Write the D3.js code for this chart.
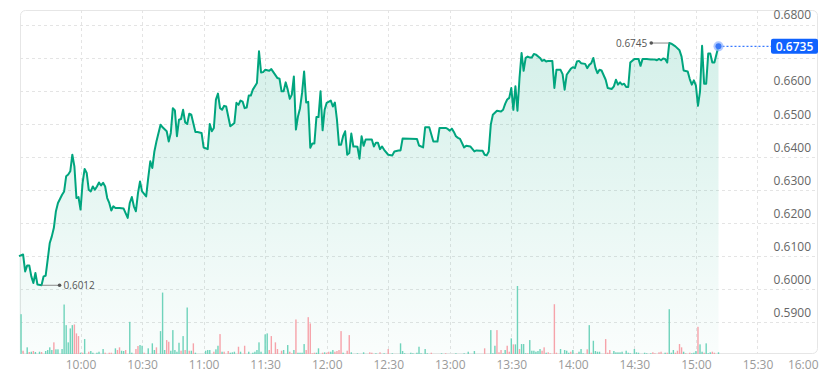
<!DOCTYPE html>
<html>
<head>
<meta charset="utf-8">
<script src="https://cdn.jsdelivr.net/npm/d3@7"></script>
<style>
  body { margin: 0; background: #fff; }
  svg text { font-family: "Open Sans", sans-serif; }
</style>
</head>
<body>
<svg id="chart" width="833" height="377"></svg>
<script>
// intraday price, one point per traded minute
var priceTimes = ["9:30","9:32","9:33","9:34","9:35","9:36","9:37","9:38","9:39","9:41","9:42","9:43","9:44","9:45","9:46","9:47","9:48","9:49","9:51","9:52","9:53","9:54","9:55","9:56","9:57","9:58","9:59",
"10:00","10:01","10:02","10:03","10:04","10:05","10:06","10:07","10:08","10:09","10:10","10:11","10:12","10:13","10:14","10:15","10:16","10:17","10:19","10:21","10:23","10:24","10:25","10:26","10:27","10:28","10:29","10:30","10:32","10:33","10:34","10:35","10:36","10:37","10:39","10:40","10:42","10:43","10:44","10:45","10:46","10:47","10:48","10:49","10:50","10:51","10:52","10:53","10:54","10:56","10:57","10:59",
"11:00","11:02","11:03","11:04","11:05","11:06","11:07","11:08","11:09","11:10","11:11","11:13","11:14","11:15","11:16","11:17","11:18","11:19","11:20","11:21","11:22","11:23","11:24","11:26","11:27","11:28","11:29","11:30","11:32","11:33","11:34","11:36","11:37","11:38","11:39","11:40","11:41","11:42","11:43","11:44","11:45","11:46","11:47","11:48","11:49","11:50","11:51","11:52","11:53","11:54","11:55","11:56","11:57","11:58","11:59",
"12:00","12:02","12:03","12:04","12:05","12:06","12:07","12:08","12:09","12:10","12:11","12:12","12:13","12:14","12:15","12:16","12:17","12:18","12:19","12:22","12:23","12:24","12:25","12:26","12:27","12:28","12:30","12:32","12:33","12:35","12:36","12:37","12:44","12:45","12:47","12:48","12:50","12:52","12:54","12:55","12:58","12:59",
"13:00","13:01","13:02","13:03","13:04","13:05","13:07","13:08","13:10","13:12","13:13","13:15","13:16","13:17","13:18","13:19","13:20","13:21","13:23","13:25","13:26","13:27","13:28","13:29","13:30","13:31","13:32","13:33","13:34","13:35","13:36","13:37","13:38","13:39","13:40","13:41","13:42","13:44","13:45","13:46","13:47","13:48","13:50","13:51","13:52","13:54","13:55","13:56","13:57","13:59",
"14:00","14:01","14:02","14:03","14:04","14:06","14:07","14:08","14:09","14:10","14:11","14:12","14:13","14:14","14:16","14:17","14:19","14:20","14:21","14:22","14:23","14:24","14:25","14:26","14:27","14:28","14:30","14:32","14:33","14:34","14:36","14:38","14:40","14:41","14:42","14:43","14:44","14:45","14:46","14:47","14:48","14:50","14:52","14:53","14:54","14:56","14:57","14:58","14:59",
"15:00","15:01","15:02","15:03","15:04","15:05","15:06","15:07","15:08","15:09","15:11"];

var prices = [0.6100,0.6105,0.6054,0.6072,0.6072,0.6039,0.6019,0.6049,0.6014,0.6012,0.6039,0.6041,0.6090,0.6140,0.6160,0.6186,0.6236,0.6261,0.6286,0.6296,0.6342,0.6347,0.6357,0.6407,0.6372,0.6276,0.6279,
0.6241,0.6322,0.6364,0.6352,0.6301,0.6296,0.6311,0.6301,0.6311,0.6323,0.6314,0.6322,0.6311,0.6276,0.6261,0.6238,0.6251,0.6246,0.6246,0.6244,0.6216,0.6261,0.6279,0.6251,0.6236,0.6291,0.6326,0.6296,0.6281,0.6337,0.6387,0.6367,0.6417,0.6447,0.6498,0.6490,0.6478,0.6447,0.6473,0.6548,0.6541,0.6463,0.6513,0.6515,0.6543,0.6505,0.6500,0.6531,0.6528,0.6476,0.6476,0.6473,
0.6429,0.6424,0.6500,0.6478,0.6488,0.6574,0.6592,0.6548,0.6543,0.6555,0.6553,0.6493,0.6498,0.6503,0.6564,0.6558,0.6571,0.6568,0.6548,0.6550,0.6586,0.6586,0.6604,0.6624,0.6720,0.6656,0.6657,0.6664,0.6661,0.6666,0.6657,0.6639,0.6637,0.6599,0.6599,0.6626,0.6604,0.6576,0.6589,0.6644,0.6483,0.6523,0.6548,0.6594,0.6659,0.6565,0.6567,0.6428,0.6441,0.6441,0.6521,0.6521,0.6599,0.6481,0.6543,
0.6564,0.6571,0.6553,0.6565,0.6513,0.6437,0.6437,0.6463,0.6478,0.6407,0.6412,0.6471,0.6432,0.6432,0.6431,0.6395,0.6463,0.6434,0.6453,0.6453,0.6432,0.6443,0.6443,0.6424,0.6432,0.6422,0.6407,0.6405,0.6417,0.6420,0.6420,0.6456,0.6455,0.6435,0.6429,0.6490,0.6490,0.6447,0.6447,0.6488,0.6488,0.6485,
0.6480,0.6486,0.6476,0.6463,0.6458,0.6455,0.6429,0.6434,0.6432,0.6417,0.6420,0.6419,0.6419,0.6407,0.6405,0.6417,0.6498,0.6528,0.6540,0.6538,0.6543,0.6561,0.6574,0.6579,0.6609,0.6543,0.6614,0.6540,0.6639,0.6715,0.6661,0.6700,0.6704,0.6701,0.6701,0.6712,0.6710,0.6700,0.6691,0.6694,0.6689,0.6691,0.6691,0.6609,0.6664,0.6664,0.6651,0.6604,0.6649,0.6667,
0.6672,0.6669,0.6689,0.6691,0.6684,0.6682,0.6669,0.6679,0.6684,0.6700,0.6670,0.6654,0.6664,0.6662,0.6634,0.6609,0.6606,0.6614,0.6634,0.6619,0.6626,0.6619,0.6622,0.6612,0.6612,0.6686,0.6697,0.6697,0.6676,0.6697,0.6697,0.6695,0.6695,0.6693,0.6697,0.6693,0.6698,0.6697,0.6686,0.6745,0.6743,0.6735,0.6723,0.6704,0.6662,0.6659,0.6636,0.6619,0.6632,
0.6616,0.6555,0.6599,0.6737,0.6622,0.6622,0.6713,0.6713,0.6686,0.6686,0.6735];

// volume per minute (thousands), u = up tick (green), d = down tick (red)
var volTimes = ["9:31","9:32","9:34","9:35","9:36","9:37","9:38","9:40","9:41","9:43","9:44","9:45","9:46","9:47","9:48","9:49","9:51","9:52","9:53","9:54","9:55","9:56","9:57","9:58","9:59",
"10:00","10:01","10:02","10:04","10:05","10:06","10:08","10:09","10:11","10:12","10:14","10:15","10:17","10:18","10:19","10:20","10:21","10:22","10:24","10:25","10:27","10:28","10:29","10:30","10:31","10:33","10:35","10:36","10:37","10:39","10:40","10:41","10:42","10:43","10:44","10:45","10:46","10:47","10:48","10:49","10:50","10:51","10:52","10:53","10:54","10:55","10:56",
"11:01","11:02","11:03","11:05","11:06","11:07","11:08","11:09","11:10","11:12","11:13","11:14","11:15","11:17","11:18","11:20","11:22","11:24","11:25","11:26","11:27","11:28","11:30","11:31","11:32","11:33","11:35","11:36","11:38","11:39","11:41","11:42","11:43","11:44","11:45","11:46","11:47","11:48","11:49","11:50","11:51","11:52","11:53","11:54","11:55","11:56","11:58","11:59",
"12:00","12:01","12:02","12:03","12:04","12:05","12:06","12:07","12:08","12:10","12:11","12:12","12:15","12:18","12:21","12:22","12:24","12:26","12:28","12:30","12:32","12:36","12:37","12:38","12:41","12:42","12:44","12:45","12:46","12:48","12:49","12:51","12:56","12:58",
"13:03","13:07","13:09","13:12","13:17","13:20","13:21","13:22","13:23","13:24","13:25","13:26","13:27","13:28","13:29","13:30","13:31","13:32","13:33","13:34","13:35","13:36","13:37","13:38","13:39","13:40","13:41","13:42","13:43","13:44","13:45","13:46","13:47","13:48","13:49","13:51","13:52","13:54","13:56","13:57","13:58","13:59",
"14:00","14:02","14:03","14:04","14:05","14:07","14:08","14:09","14:10","14:11","14:12","14:13","14:16","14:17","14:18","14:20","14:21","14:22","14:23","14:24","14:26","14:27","14:28","14:30","14:31","14:32","14:35","14:36","14:38","14:39","14:40","14:42","14:43","14:45","14:46","14:47","14:48","14:49","14:50","14:51","14:52","14:53","14:54","14:55","14:57","14:58","14:59",
"15:00","15:01","15:02","15:03","15:04","15:05","15:06","15:07","15:08","15:09","15:11"];

var volumes = [40,3.3,6.7,2,2.3,3,2,2.3,2,3,4,6.7,4,11.7,4.7,4.7,5,49.7,29,11.7,25.7,29,29.7,20.7,18,
1.3,1.3,15,2.3,3,1.3,1.3,2.3,5,1.3,1.3,1.3,5.7,4,6.7,3.3,3,4,32.3,1.3,5,8,9,8.3,1.3,5.7,10.7,4,6.7,23,61.7,4,14,12.3,3.3,24,4,2.3,11.3,3.3,18,4,46.7,3.3,3.3,10.7,1.3,
3.3,4,4,2.3,4.7,8.3,20,2.3,2.3,3,1.3,1.7,2.3,7.3,2.3,8.3,2.3,1.3,2.3,4,11.7,2.3,19.7,20.7,4,18,11.7,5,3.3,4,9,2.3,0.7,4,34.7,1.3,1.3,1.3,10,4,37,30.7,0.7,1.3,1.3,5.7,1.3,1.7,
1.3,2.3,2.3,4,2.3,3,4,23,1.3,3.3,19,1.7,0.7,1.7,1.7,1.3,0.7,1.7,0.7,5,0.7,10.7,3,0.7,1.3,0.7,1.3,7.3,0.7,5,0.7,1.3,0.7,0.7,
0.7,0.7,2.3,3,5.7,24,0.7,8.3,24,1.7,4,0.7,4,8.3,2.3,15.7,9.7,9.7,68.3,5,10,10,0.7,0.7,14,3.3,3.3,2.3,3,5,3.3,6.7,1.3,1.7,0.7,50,1.3,5,4,3.3,1.3,2.3,
4,0.7,2.3,5,0.7,4.7,29,1.3,13.3,3,2.3,2.3,15,1.3,4,3,1.7,1.7,1.7,2.3,3.3,1.3,0.7,5,1.7,1.3,1.3,0.7,0.7,1.7,0.7,1.7,2.3,1.3,1.3,45,1.3,4,1.3,3.3,10,6.7,2.3,0.7,1.3,0.7,1.3,
3,27.3,9.7,2.3,1.3,10.7,0.7,1.7,2.3,1.3,1.7];

var volSides = ["u","d","u","d","u","d","u","u","d","u","u","u","u","d","u","u","u","u","u","u","u","u","d","d","d",
"u","d","u","d","u","u","u","u","u","d","d","d","u","d","d","u","u","d","u","u","d","d","u","u","d","u","u","u","d","u","u","u","d","d","u","u","u","u","u","d","u","d","u","d","u","d","u",
"u","u","u","d","u","u","d","u","d","d","u","u","u","d","u","d","u","u","u","u","u","u","u","u","d","d","d","d","d","u","u","d","d","u","d","u","u","u","u","d","d","d","d","d","u","u","d","u",
"d","d","u","u","d","d","d","d","u","d","d","u","u","u","d","d","u","d","u","d","u","u","u","u","u","u","u","u","u","u","u","d","u","d",
"u","u","u","u","d","u","u","u","d","d","d","u","u","d","d","u","d","u","u","d","u","u","u","d","u","u","u","u","u","u","d","d","u","d","d","d","d","u","u","u","u","d",
"u","d","u","u","u","d","u","d","u","u","u","u","d","d","d","u","u","u","u","u","u","u","u","u","u","u","u","u","u","d","d","d","d","u","d","u","u","u","d","d","d","d","u","d","d","u","u",
"u","d","u","u","d","u","u","u","d","d","u"];

var priceTicks = [0.59, 0.60, 0.61, 0.62, 0.63, 0.64, 0.65, 0.66, 0.67, 0.68];
var timeTicks = ["10:00","10:30","11:00","11:30","12:00","12:30","13:00","13:30","14:00","14:30","15:00","15:30","16:00"];
var sessionStart = "9:30", sessionEnd = "16:00";

chart();

function chart() {
    var svg = d3.select("#chart");
    var parseTime = d3.timeParse("%H:%M");

    // plot frame
    var frame = {left: 20, right: 818, top: 10, bottom: 354};

    var x = d3.scaleTime()
        .domain([parseTime(sessionStart), parseTime(sessionEnd)])
        .range([19, 819]);

    var y = d3.scaleLinear()
        .domain([0.5804, 0.6845])
        .range([frame.bottom, frame.top]);

    var yVol = d3.scaleLinear()
        .domain([0, d3.max(volumes)])
        .range([frame.bottom, frame.bottom - 68]);

    var data = priceTimes.map((t, i) => ({t: parseTime(t), p: prices[i]}));
    var vols = volTimes.map((t, i) => ({t: parseTime(t), v: volumes[i], s: volSides[i]}));
    var last = data[data.length - 1];

    var lineCol = "#00a57e";
    var blue = "#0f62fe";

    // gradient for the area under the price line
    var grad = svg.append("defs").append("linearGradient")
        .attr("id", "areaFill")
        .attr("gradientUnits", "userSpaceOnUse")
        .attr("x1", 0).attr("x2", 0)
        .attr("y1", 40).attr("y2", frame.bottom);
    grad.append("stop").attr("offset", 0).attr("stop-color", lineCol).attr("stop-opacity", 0.17);
    grad.append("stop").attr("offset", 1).attr("stop-color", lineCol).attr("stop-opacity", 0.02);

    // frame box
    svg.append("rect")
        .attr("x", frame.left + 0.5).attr("y", frame.top + 0.5)
        .attr("width", frame.right - frame.left - 1)
        .attr("height", frame.bottom - frame.top - 1)
        .attr("rx", 5)
        .attr("fill", "none")
        .attr("stroke", "#e6e6e6");

    // dashed grid
    var grid = svg.append("g").attr("stroke", "#e4e4e4").attr("stroke-dasharray", "3,3");
    grid.selectAll("line.h").data(priceTicks).enter().append("line")
        .attr("class", "h")
        .attr("x1", frame.left).attr("x2", frame.right)
        .attr("y1", d => Math.round(y(d)) + 0.5).attr("y2", d => Math.round(y(d)) + 0.5);
    grid.selectAll("line.v").data(timeTicks.slice(0, -1)).enter().append("line")
        .attr("class", "v")
        .attr("x1", d => Math.round(x(parseTime(d))) + 0.5).attr("x2", d => Math.round(x(parseTime(d))) + 0.5)
        .attr("y1", frame.top).attr("y2", frame.bottom);

    // area under the line
    var area = d3.area()
        .x(d => x(d.t))
        .y0(frame.bottom)
        .y1(d => y(d.p));
    svg.append("path").datum(data)
        .attr("d", area)
        .attr("fill", "url(#areaFill)");

    // volume bars
    svg.append("g").selectAll("rect").data(vols).enter().append("rect")
        .attr("x", d => x(d.t) - 0.7)
        .attr("width", 1.4)
        .attr("y", d => yVol(d.v))
        .attr("height", d => frame.bottom - yVol(d.v))
        .attr("fill", d => d.s == "u" ? "#6fd3bb" : "#f6a3aa");

    // price line
    var line = d3.line()
        .x(d => x(d.t))
        .y(d => y(d.p));
    svg.append("path").datum(data)
        .attr("d", line)
        .attr("fill", "none")
        .attr("stroke", lineCol)
        .attr("stroke-width", 2)
        .attr("stroke-linejoin", "round");

    // right price axis, labels sit just above their grid line
    // the one that would sit under the last-price tag is left out
    var tagY = y(last.p);
    var shownTicks = priceTicks.filter(d => Math.abs((y(d) - 10) - tagY) > 12);
    var yAxis = svg.append("g")
        .attr("transform", "translate(811,0)")
        .call(d3.axisLeft(y).tickValues(shownTicks).tickFormat(d3.format(".4f")).tickSize(0).tickPadding(0));
    yAxis.select(".domain").remove();
    yAxis.selectAll("text")
        .attr("dy", null)
        .attr("y", -6)
        .attr("fill", "#666")
        .style("font-size", "12px")
        .style("font-family", "'Open Sans', sans-serif");

    // time axis
    var xAxis = svg.append("g")
        .attr("transform", `translate(0,${frame.bottom})`)
        .call(d3.axisBottom(x).tickValues(timeTicks.map(parseTime)).tickFormat(d3.timeFormat("%H:%M")).tickSize(0).tickPadding(6));
    xAxis.select(".domain").remove();
    xAxis.selectAll("text")
        .attr("fill", "#9a9a9a")
        .style("font-size", "12px")
        .style("font-family", "'Open Sans', sans-serif");
    // last label would run off the edge, pin it to the frame
    xAxis.selectAll(".tick:last-of-type text")
        .attr("text-anchor", "end")
        .attr("x", frame.right - x(parseTime(sessionEnd)));

    // high / low annotations
    var hi = data[d3.maxIndex(data, d => d.p)];
    var lo = data[d3.minIndex(data, d => d.p)];
    var fmt = d3.format(".4f");

    function annotate(d, dir) {
        var px = x(d.t), py = y(d.p);
        var dotX = px + dir * 18;
        var g = svg.append("g");
        g.append("line")
            .attr("x1", px).attr("x2", dotX)
            .attr("y1", py).attr("y2", py)
            .attr("stroke", "#8a8a8a").attr("stroke-width", 1);
        g.append("circle").attr("cx", dotX).attr("cy", py).attr("r", 1.8).attr("fill", "#555");
        g.append("text")
            .attr("x", dotX + dir * 4).attr("y", py)
            .attr("dy", "0.35em")
            .attr("text-anchor", dir < 0 ? "end" : "start")
            .attr("fill", "#555")
            .style("font-size", "10px")
            .text(fmt(d.p));
    }
    annotate(hi, -1);
    annotate(lo, 1);

    // last price marker, dotted guide and tag
    var lx = x(last.t), ly = y(last.p);
    svg.append("line")
        .attr("x1", lx).attr("x2", 771)
        .attr("y1", ly).attr("y2", ly)
        .attr("stroke", "#3b7bff").attr("stroke-width", 1.2)
        .attr("stroke-dasharray", "2,2");
    svg.append("circle").attr("cx", lx).attr("cy", ly).attr("r", 5).attr("fill", "#8fb2ff").attr("opacity", 0.7);
    svg.append("circle").attr("cx", lx).attr("cy", ly).attr("r", 3).attr("fill", "#3a78f7");

    svg.append("rect")
        .attr("x", 771).attr("y", ly - 7.5)
        .attr("width", 47).attr("height", 15)
        .attr("rx", 2)
        .attr("fill", blue);
    svg.append("text")
        .attr("x", 794.5).attr("y", ly)
        .attr("dy", "0.36em")
        .attr("text-anchor", "middle")
        .attr("fill", "#fff")
        .style("font-size", "12px")
        .style("font-weight", 600)
        .text(fmt(last.p));
}
</script>
</body>
</html>
